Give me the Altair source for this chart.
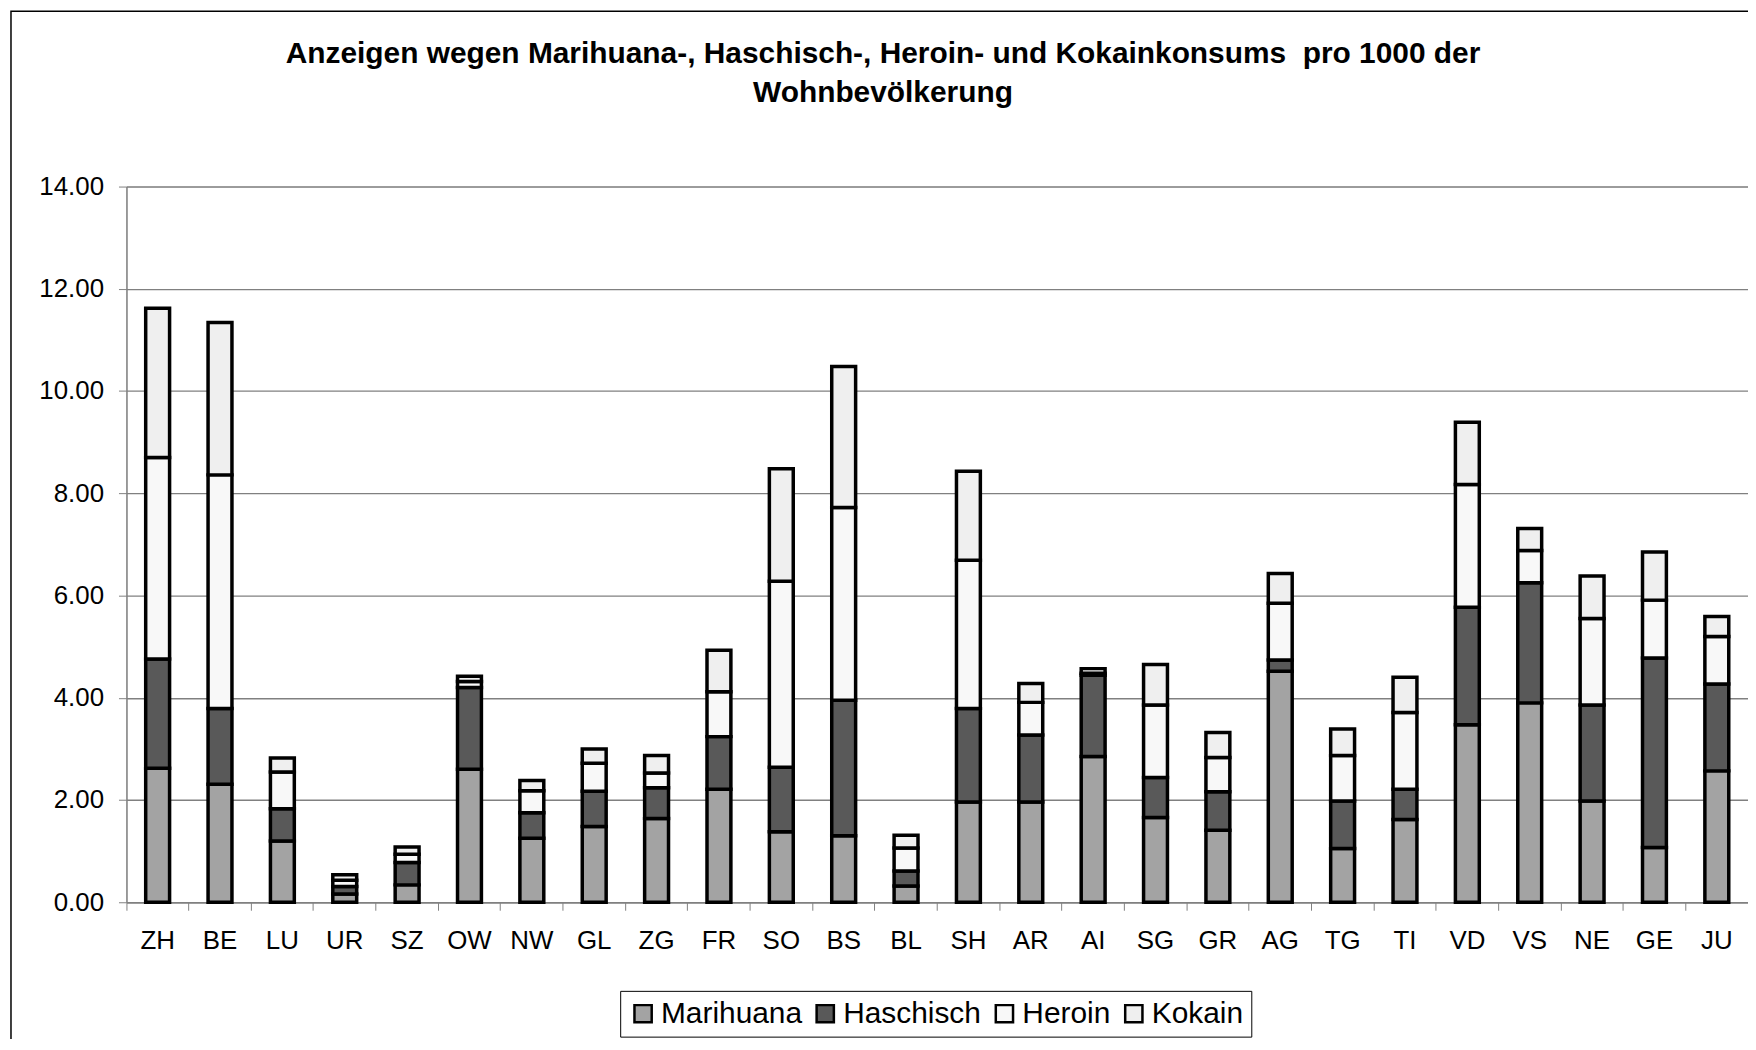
import altair as alt
import pandas as pd

cantons = ["ZH", "BE", "LU", "UR", "SZ", "OW", "NW", "GL", "ZG", "FR", "SO", "BS", "BL",
           "SH", "AR", "AI", "SG", "GR", "AG", "TG", "TI", "VD", "VS", "NE", "GE", "JU"]
marihuana = [2.62, 2.31, 1.20, 0.16, 0.34, 2.60, 1.25, 1.48, 1.64, 2.21, 1.38, 1.30, 0.32,
             1.96, 1.96, 2.85, 1.66, 1.41, 4.52, 1.05, 1.62, 3.47, 3.90, 1.98, 1.07, 2.57]
haschisch = [2.14, 1.48, 0.63, 0.15, 0.44, 1.60, 0.50, 0.69, 0.60, 1.03, 1.26, 2.65, 0.29,
             1.83, 1.31, 1.59, 0.78, 0.75, 0.22, 0.93, 0.59, 2.30, 2.35, 1.88, 3.71, 1.70]
heroin = [3.94, 4.57, 0.72, 0.12, 0.16, 0.12, 0.43, 0.55, 0.29, 0.88, 3.64, 3.77, 0.45,
          2.90, 0.64, 0.04, 1.42, 0.67, 1.11, 0.89, 1.50, 2.40, 0.63, 1.69, 1.13, 0.93]
kokain = [2.92, 2.98, 0.27, 0.11, 0.14, 0.10, 0.20, 0.28, 0.34, 0.81, 2.20, 2.76, 0.25,
          1.74, 0.37, 0.09, 0.79, 0.49, 0.58, 0.52, 0.69, 1.22, 0.43, 0.83, 0.94, 0.39]

series_names = ["Marihuana", "Haschisch", "Heroin", "Kokain"]
series_values = [marihuana, haschisch, heroin, kokain]
series_colors = ["#a3a3a3", "#595959", "#f8f8f8", "#efefef"]
y_ticks = [0, 2, 4, 6, 8, 10, 12, 14]

title_lines = ["Anzeigen wegen Marihuana-, Haschisch-, Heroin- und Kokainkonsums\u00a0 pro 1000 der",
               "Wohnbevölkerung"]

rows = []
for si, (name, vals) in enumerate(zip(series_names, series_values)):
    for c, v in zip(cantons, vals):
        rows.append({"Kanton": c, "Serie": name, "Wert": v, "ord": si})
df = pd.DataFrame(rows)

FONT = "Liberation Sans"

bars = alt.Chart(df).mark_bar(size=24, stroke="#000000", strokeWidth=3.5).encode(
    x=alt.X("Kanton:N", sort=cantons,
            scale=alt.Scale(paddingInner=0, paddingOuter=0),
            axis=alt.Axis(title=None, labelAngle=0, bandPosition=0, tickSize=8,
                          labelPadding=17, labelFontSize=26, labelFont=FONT,
                          labelColor="#000000", tickColor="#808080",
                          domainColor="#808080", domainWidth=1.5, grid=False)),
    y=alt.Y("Wert:Q", stack="zero",
            scale=alt.Scale(domain=[0, 14], nice=False),
            axis=alt.Axis(title=None, values=y_ticks, format=".2f", tickSize=8,
                          labelPadding=15, labelFontSize=26, labelFont=FONT,
                          labelColor="#000000", tickColor="#808080",
                          domainColor="#808080", domainWidth=1.5,
                          grid=True, gridColor="#808080", gridWidth=1.4)),
    color=alt.Color("Serie:N",
                    scale=alt.Scale(domain=series_names, range=series_colors),
                    legend=alt.Legend(title=None, orient="none", direction="horizontal",
                                      legendX=496, legendY=808,
                                      symbolType="square", symbolSize=300,
                                      symbolStrokeColor="#000000", symbolStrokeWidth=2.5,
                                      labelFontSize=30, labelFont=FONT, labelColor="#000000",
                                      labelOffset=3, columnPadding=8,
                                      padding=8, strokeColor="#000000",
                                      fillColor="#ffffff")),
    order=alt.Order("ord:Q", sort="ascending"),
)

frame = alt.Chart(pd.DataFrame({"f": [0]})).mark_rect(
    fillOpacity=0, stroke="#000000", strokeWidth=1.5
).encode(
    x=alt.value(-116), x2=alt.value(1700), y=alt.value(-176), y2=alt.value(950)
)

title1 = alt.Chart(pd.DataFrame({"t": [title_lines[0]]})).mark_text(
    font=FONT, fontSize=30, fontWeight="bold", color="#000000",
    align="center", baseline="middle"
).encode(text="t:N", x=alt.value(760), y=alt.value(-133))

title2 = alt.Chart(pd.DataFrame({"t": [title_lines[1]]})).mark_text(
    font=FONT, fontSize=30, fontWeight="bold", color="#000000",
    align="center", baseline="middle"
).encode(text="t:N", x=alt.value(760), y=alt.value(-94))

chart = alt.layer(frame, title1, title2, bars).properties(
    width=1629,
    height=719,
    autosize=alt.AutoSizeParams(type="none"),
    padding={"left": 119, "top": 177, "right": 0, "bottom": 135},
).configure_view(stroke=None).configure(background="#ffffff")

chart.save("out.html", embed_options={"renderer": "svg", "actions": False})
